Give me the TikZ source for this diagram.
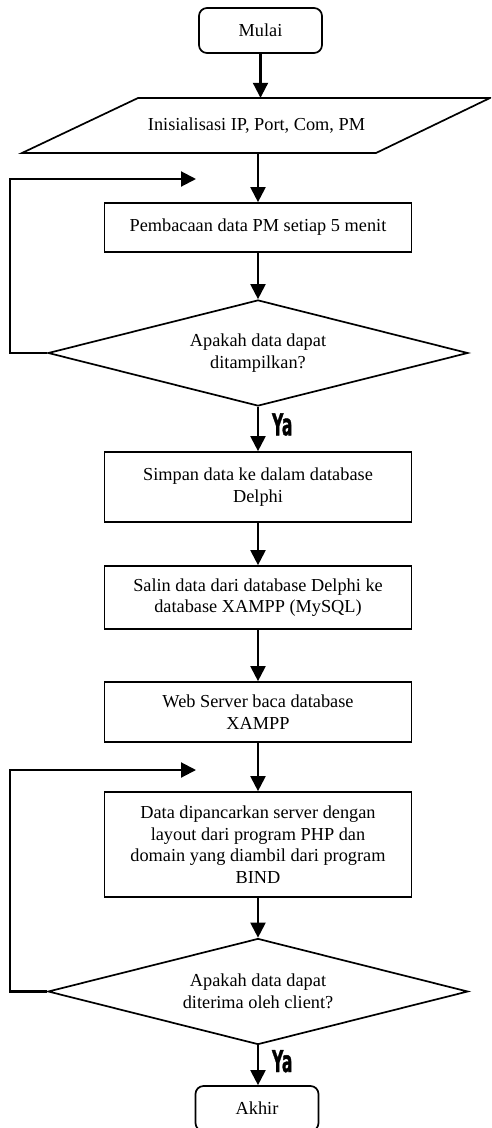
\documentclass[tikz,border=0pt]{standalone}
\usepackage{fontspec}
\setmainfont{Liberation Serif}
\newfontfamily\yafont{DejaVu Sans}[BoldFeatures={FakeBold=1.5}]
\usetikzlibrary{arrows.meta,shapes.geometric}
\begin{document}
\begin{tikzpicture}[x=1pt,y=-1pt,
  every node/.style={font=\fontsize{18.3}{21.6}\selectfont, align=center},
  terminal/.style={draw, line width=1.7pt, rounded corners=8pt, minimum width=123pt, minimum height=45pt, inner sep=0pt},
  procbox/.style={draw, line width=1.7pt, minimum width=307pt, inner sep=0pt},
  decision/.style={draw, diamond, line width=1.7pt, shape aspect=3.96, minimum width=420pt, minimum height=106pt, inner sep=0pt},
  flow/.style={line width=2.1pt, -{Triangle[width=15pt,length=15pt]}},
  yalabel/.style={font=\yafont\bfseries\fontsize{30}{30}\selectfont, inner sep=0pt}
]
\clip (0,0) rectangle (491,1128);
\fill[white] (0,0) rectangle (491,1128);

\node[terminal] (start) at (260.5,30.5) {Mulai};
\node[minimum width=352pt, minimum height=55pt, inner sep=0pt] (init) at (256.5,125.5) {Inisialisasi IP, Port, Com, PM};
\draw[line width=1.7pt, line join=miter] (138,98) -- (490,98) -- (376,153) -- (22,153) -- cycle;
\node[procbox, minimum height=49pt] (read) at (258,227.5) {Pembacaan data PM setiap 5 menit};
\node[decision] (dec1) at (258,353) {Apakah data dapat\\ditampilkan?};
\node[procbox, minimum height=70pt] (save) at (258,487) {Simpan data ke dalam database\\Delphi};
\node[procbox, minimum height=63pt] (copy) at (258,597.5) {Salin data dari database Delphi ke\\database XAMPP (MySQL)};
\node[procbox, minimum height=60pt] (web) at (258,712) {Web Server baca database\\XAMPP};
\node[procbox, minimum height=105pt] (send) at (258,844.5) {Data dipancarkan server dengan\\layout dari program PHP dan\\domain yang diambil dari program\\BIND};
\node[decision] (dec2) at (258,991.5) {Apakah data dapat\\diterima oleh client?};
\node[terminal] (finish) at (257,1108.5) {Akhir};

\coordinate (loop1) at (196,179);
\coordinate (loop2) at (196,770);

\draw[flow] (start.south) -- (start.south |- init.north);
\draw[flow] (258,153) -- (read.north);
\draw[flow] (read.south) -- (dec1.north);
\draw[flow] (dec1.south) -- (save.north) node[pos=0.4, right=13pt, yalabel] {\scalebox{0.52}[1]{Ya}};
\draw[flow] (save.south) -- (copy.north);
\draw[flow] (copy.south) -- (web.north);
\draw[flow] (web.south) -- (send.north);
\draw[flow] (send.south) -- (dec2.north);
\draw[flow] (dec2.south) -- (dec2.south |- finish.north) node[pos=0.4, right=13pt, yalabel] {\scalebox{0.52}[1]{Ya}};

\draw[flow, line join=miter] (dec1.west) -- (10,353) -- (10,179) -- (loop1);
\draw[flow, line join=miter] (dec2.west) -- (10,991.5) -- (10,770) -- (loop2);
\end{tikzpicture}
\end{document}
